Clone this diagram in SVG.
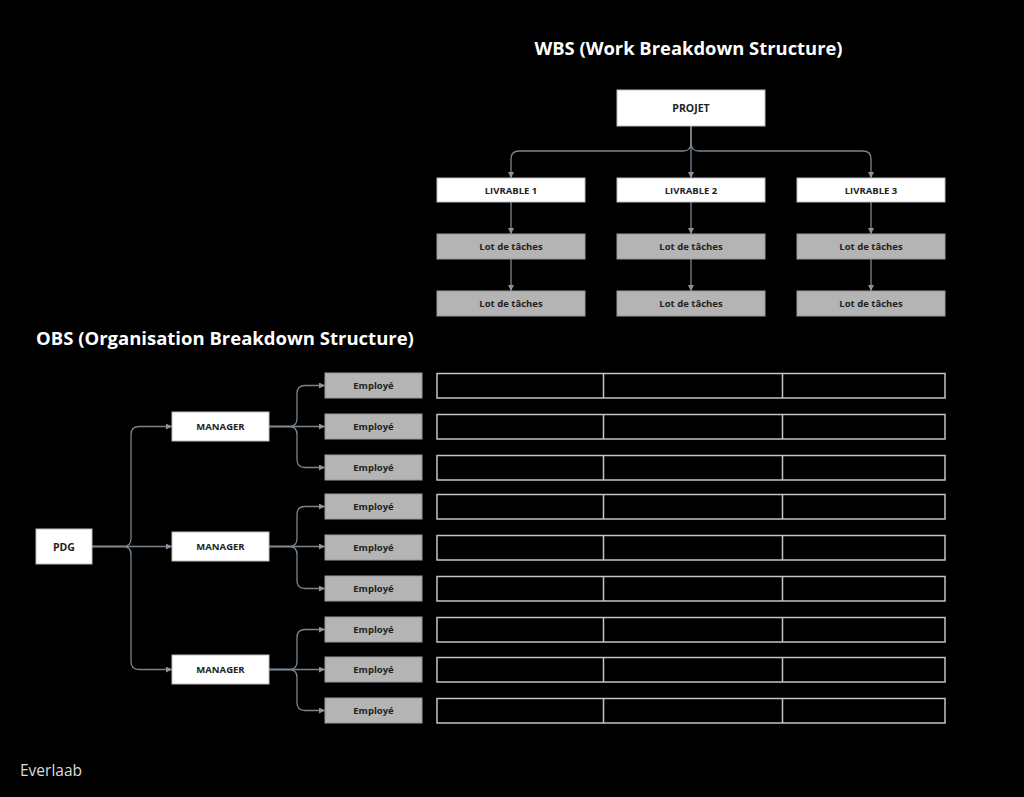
<svg xmlns="http://www.w3.org/2000/svg" width="1024" height="797" viewBox="0 0 1024 797">
<defs>
<style>
.w{fill:#ffffff;stroke:#bdbdbd;stroke-width:1}
.g{fill:#b4b4b4;stroke:#9a9a9a;stroke-width:1}
.t{fill:none;stroke:#c4c4c4;stroke-width:1.5}
.lbl{font-family:"Open Sans","Liberation Sans",sans-serif;font-weight:700;font-size:9.5px;fill:#222222;text-anchor:middle;dominant-baseline:central}
.big{font-size:10.5px}
.title{font-family:"Open Sans","Liberation Sans",sans-serif;font-weight:700;fill:#ffffff}
.c{fill:none;stroke:#7a8590;stroke-width:1.3;marker-end:url(#ah)}
</style>
<marker id="ah" viewBox="0 0 6 6" refX="6" refY="3" markerWidth="6" markerHeight="6" markerUnits="userSpaceOnUse" orient="auto">
<path d="M0,0 L6,3 L0,6 Z" fill="#8a949e"/>
</marker>
</defs>
<rect width="1024" height="797" fill="#000000"/>
<text class="title" x="688.5" y="55" style="font-size:18.4px" text-anchor="middle">WBS (Work Breakdown Structure)</text>
<text class="title" x="36" y="345" style="font-size:18.5px">OBS (Organisation Breakdown Structure)</text>
<text x="20" y="776" font-family="'Open Sans','Liberation Sans',sans-serif" font-size="15.5" fill="#dddddd">Everlaab</text>

<g id="connectors">
<path class="c" d="M691,126 V143 Q691,151 683,151 H519 Q511,151 511,159 V178"/>
<path class="c" d="M691,126 V178"/>
<path class="c" d="M691,126 V143 Q691,151 699,151 H863 Q871,151 871,159 V178"/>
<path class="c" d="M511,202 V234"/>
<path class="c" d="M691,202 V234"/>
<path class="c" d="M871,202 V234"/>
<path class="c" d="M511,259 V291"/>
<path class="c" d="M691,259 V291"/>
<path class="c" d="M871,259 V291"/>

<path class="c" d="M92,546.5 H123 Q131,546.5 131,538.5 V434.5 Q131,426.5 139,426.5 H172"/>
<path class="c" d="M92,546.5 H172"/>
<path class="c" d="M92,546.5 H123 Q131,546.5 131,554.5 V661.5 Q131,669.5 139,669.5 H172"/>

<path class="c" d="M269,426.5 H289 Q297,426.5 297,418.5 V393.5 Q297,385.5 305,385.5 H325"/>
<path class="c" d="M269,426.5 H325"/>
<path class="c" d="M269,426.5 H289 Q297,426.5 297,434.5 V459.5 Q297,467.5 305,467.5 H325"/>

<path class="c" d="M269,546.5 H289 Q297,546.5 297,538.5 V514.5 Q297,506.5 305,506.5 H325"/>
<path class="c" d="M269,546.5 H325"/>
<path class="c" d="M269,546.5 H289 Q297,546.5 297,554.5 V580.5 Q297,588.5 305,588.5 H325"/>

<path class="c" d="M269,669.5 H289 Q297,669.5 297,661.5 V637.5 Q297,629.5 305,629.5 H325"/>
<path class="c" d="M269,669.5 H325"/>
<path class="c" d="M269,669.5 H289 Q297,669.5 297,677.5 V702.5 Q297,710.5 305,710.5 H325"/>
</g>

<g id="projet"><rect class="w" x="617" y="90" width="148" height="36"/><text class="lbl big" x="691" y="108">PROJET</text></g>
<g id="livrable1"><rect class="w" x="437" y="178" width="148" height="24"/><text class="lbl" x="511" y="190">LIVRABLE 1</text></g>
<g id="livrable2"><rect class="w" x="617" y="178" width="148" height="24"/><text class="lbl" x="691" y="190">LIVRABLE 2</text></g>
<g id="livrable3"><rect class="w" x="797" y="178" width="148" height="24"/><text class="lbl" x="871" y="190">LIVRABLE 3</text></g>
<g id="lot1a"><rect class="g" x="437" y="234" width="148" height="25"/><text class="lbl" x="511" y="246.5">Lot de tâches</text></g>
<g id="lot2a"><rect class="g" x="617" y="234" width="148" height="25"/><text class="lbl" x="691" y="246.5">Lot de tâches</text></g>
<g id="lot3a"><rect class="g" x="797" y="234" width="148" height="25"/><text class="lbl" x="871" y="246.5">Lot de tâches</text></g>
<g id="lot1b"><rect class="g" x="437" y="291" width="148" height="25"/><text class="lbl" x="511" y="303.5">Lot de tâches</text></g>
<g id="lot2b"><rect class="g" x="617" y="291" width="148" height="25"/><text class="lbl" x="691" y="303.5">Lot de tâches</text></g>
<g id="lot3b"><rect class="g" x="797" y="291" width="148" height="25"/><text class="lbl" x="871" y="303.5">Lot de tâches</text></g>

<g id="pdg"><rect class="w" x="36" y="529" width="56" height="35"/><text class="lbl big" x="64" y="546.5">PDG</text></g>
<g id="manager1"><rect class="w" x="172" y="412" width="97" height="29"/><text class="lbl" x="220.5" y="426.5">MANAGER</text></g>
<g id="manager2"><rect class="w" x="172" y="532" width="97" height="29"/><text class="lbl" x="220.5" y="546.5">MANAGER</text></g>
<g id="manager3"><rect class="w" x="172" y="655" width="97" height="29"/><text class="lbl" x="220.5" y="669.5">MANAGER</text></g>

<g id="employe1"><rect class="g" x="325" y="373" width="97" height="25"/><text class="lbl" x="373.5" y="385.5">Employé</text></g>
<g id="employe2"><rect class="g" x="325" y="414" width="97" height="25"/><text class="lbl" x="373.5" y="426.5">Employé</text></g>
<g id="employe3"><rect class="g" x="325" y="455" width="97" height="25"/><text class="lbl" x="373.5" y="467.5">Employé</text></g>
<g id="employe4"><rect class="g" x="325" y="494" width="97" height="25"/><text class="lbl" x="373.5" y="506.5">Employé</text></g>
<g id="employe5"><rect class="g" x="325" y="535" width="97" height="25"/><text class="lbl" x="373.5" y="547.5">Employé</text></g>
<g id="employe6"><rect class="g" x="325" y="576" width="97" height="25"/><text class="lbl" x="373.5" y="588.5">Employé</text></g>
<g id="employe7"><rect class="g" x="325" y="617" width="97" height="25"/><text class="lbl" x="373.5" y="629.5">Employé</text></g>
<g id="employe8"><rect class="g" x="325" y="657" width="97" height="25"/><text class="lbl" x="373.5" y="669.5">Employé</text></g>
<g id="employe9"><rect class="g" x="325" y="698" width="97" height="25"/><text class="lbl" x="373.5" y="710.5">Employé</text></g>

<g id="matrix">
<g id="row1"><rect class="t" x="437" y="373.5" width="508" height="24.5"/><path class="t" d="M603.5,373.5 V398 M782.5,373.5 V398"/></g>
<g id="row2"><rect class="t" x="437" y="414.5" width="508" height="24.5"/><path class="t" d="M603.5,414.5 V439 M782.5,414.5 V439"/></g>
<g id="row3"><rect class="t" x="437" y="455.5" width="508" height="24.5"/><path class="t" d="M603.5,455.5 V480 M782.5,455.5 V480"/></g>
<g id="row4"><rect class="t" x="437" y="494.5" width="508" height="24.5"/><path class="t" d="M603.5,494.5 V519 M782.5,494.5 V519"/></g>
<g id="row5"><rect class="t" x="437" y="535.5" width="508" height="24.5"/><path class="t" d="M603.5,535.5 V560 M782.5,535.5 V560"/></g>
<g id="row6"><rect class="t" x="437" y="576.5" width="508" height="24.5"/><path class="t" d="M603.5,576.5 V601 M782.5,576.5 V601"/></g>
<g id="row7"><rect class="t" x="437" y="617.5" width="508" height="24.5"/><path class="t" d="M603.5,617.5 V642 M782.5,617.5 V642"/></g>
<g id="row8"><rect class="t" x="437" y="657.5" width="508" height="24.5"/><path class="t" d="M603.5,657.5 V682 M782.5,657.5 V682"/></g>
<g id="row9"><rect class="t" x="437" y="698.5" width="508" height="24.5"/><path class="t" d="M603.5,698.5 V723 M782.5,698.5 V723"/></g>
</g>
</svg>
